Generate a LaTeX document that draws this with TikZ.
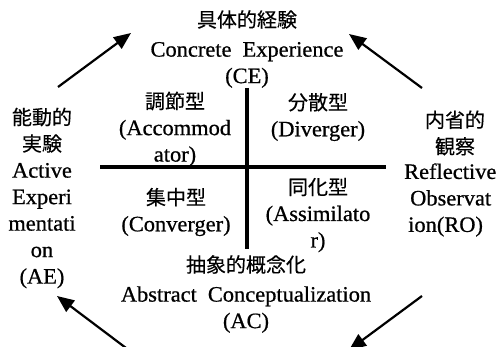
\documentclass[tikz,border=0pt]{standalone}
\usepackage{fontspec}
\setmainfont{Liberation Serif}[FakeStretch=1.02,FakeBold=0.7]
\newfontfamily\jp{Noto Sans CJK JP}[FakeBold=0.3]
\usetikzlibrary{arrows.meta}
\newcommand{\ja}[1]{{\jp\fontsize{20}{26.5}\selectfont #1}}
\tikzset{
  txt/.style={inner sep=0pt, align=center, font=\fontsize{22}{26.5}\selectfont},
  axis/.style={line width=4pt},
  cyc/.style={line width=2.2pt, -{Triangle[length=17pt,width=14pt]}}
}
\begin{document}
\begin{tikzpicture}[x=1pt,y=-1pt]
\useasboundingbox (0,0) rectangle (504,347);
\fill[white] (0,0) rectangle (504,347);
% axes
\coordinate (vt) at (247,88);
\coordinate (vb) at (247,249);
\coordinate (hl) at (100,167);
\coordinate (hr) at (386,167);
\draw[axis] (vt) -- (vb);
\draw[axis] (hl) -- (hr);
% poles
\node[txt] (CE) at (247,49) {\ja{具体的経験}\\[3pt] Concrete\hspace{0.5em}Experience\\ (CE)};
\node[txt] (AC) at (246,294) {\ja{抽象的概念化}\\[3pt] Abstract\hspace{0.5em}Conceptualization\\ (AC)};
\node[txt] (AE) at (42,198) {\ja{能動的}\\ \ja{実験}\\ Active\\ Experi\\ mentati\\ on\\ (AE)};
\node[txt] (ROj) at (455,133) {\ja{内省的}\\ \ja{観察}};
\node[txt, align=left, anchor=west] (ROe) at (404,200) {Reflective\\ \hspace{6pt}Observat\\ \hspace{4pt}ion(RO)};
% quadrants
\node[txt] (ACC) at (175,129) {\ja{調節型}\\ (Accommod\\ ator)};
\node[txt] (DIV) at (318,117) {\ja{分散型}\\ (Diverger)};
\node[txt] (CON) at (176,212) {\ja{集中型}\\ (Converger)};
\node[txt] (ASS) at (318,215) {\ja{同化型}\\ (Assimilato\\ r)};
% cycle arrows
\coordinate (a1s) at (58,87);   \coordinate (a1e) at (131,33);
\coordinate (a2s) at (422,88);  \coordinate (a2e) at (349,34);
\coordinate (a3s) at (422,296); \coordinate (a3e) at (349,350);
\coordinate (a4s) at (130,351); \coordinate (a4e) at (57,296);
\draw[cyc] (a1s) -- (a1e);
\draw[cyc] (a2s) -- (a2e);
\draw[cyc] (a3s) -- (a3e);
\draw[cyc] (a4s) -- (a4e);
\end{tikzpicture}
\end{document}
